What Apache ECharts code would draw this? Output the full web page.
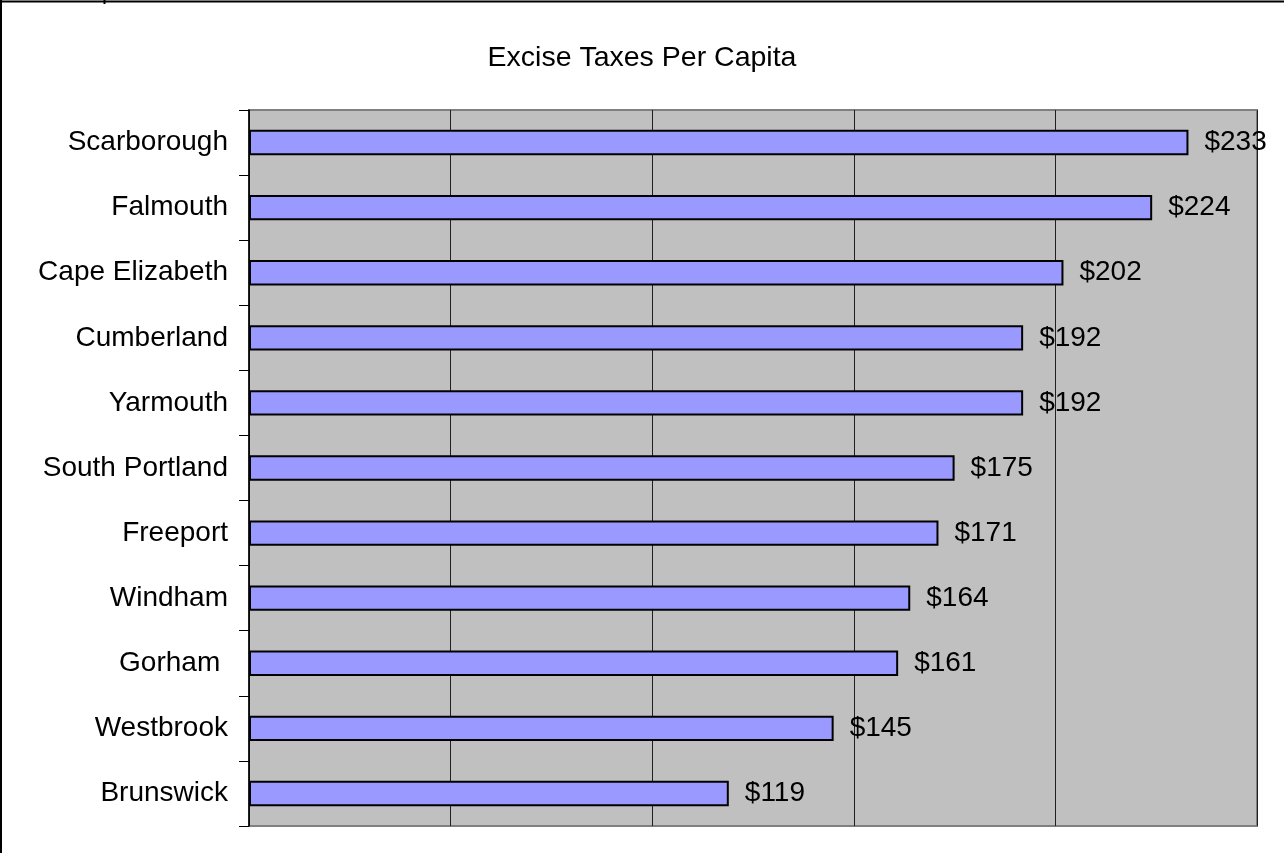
<!DOCTYPE html>
<html>
<head>
<meta charset="utf-8">
<script src="https://cdn.jsdelivr.net/npm/echarts@6/dist/echarts.min.js"></script>
<style>
html,body{margin:0;padding:0;background:#fff;}
#chart{width:1284px;height:853px;}
</style>
</head>
<body>
<div id="chart"></div>
<script>
const titleText = 'Excise Taxes Per Capita';
const categories = ['Scarborough','Falmouth','Cape Elizabeth','Cumberland','Yarmouth','South Portland','Freeport','Windham','Gorham ','Westbrook','Brunswick'];
const values = [233,224,202,192,192,175,171,164,161,145,119];
const xTicks = [0,50,100,150,200,250];

const chart = echarts.init(document.getElementById('chart'), null, {renderer:'canvas'});
const FONT = '"Liberation Sans", Arial, sans-serif';
chart.setOption({
  animation:false,
  backgroundColor:'#ffffff',
  title:{
    text:titleText, left:'center', top:39,
    textStyle:{fontFamily:FONT, fontSize:28.5, fontWeight:'normal', color:'#000'}
  },
  grid:{
    left:249, right:27, top:110, bottom:27,
    show:true, backgroundColor:'#c0c0c0', borderColor:'#808080', borderWidth:2
  },
  xAxis:{
    type:'value', min:xTicks[0], max:xTicks[xTicks.length-1], interval:xTicks[1]-xTicks[0],
    axisLabel:{show:false}, axisTick:{show:false}, axisLine:{show:false},
    splitLine:{show:true, lineStyle:{color:'#202020', width:1}}
  },
  yAxis:{
    type:'category', data:categories, inverse:true,
    axisLine:{show:true, lineStyle:{color:'#000', width:1.5}},
    axisTick:{show:true, length:10, lineStyle:{color:'#000', width:1}},
    axisLabel:{fontFamily:FONT, fontSize:28, color:'#000', margin:21},
    splitLine:{show:false}
  },
  series:[{
    type:'bar', data:values, barWidth:'39%',
    itemStyle:{color:'#9999ff', borderColor:'#000', borderWidth:2},
    label:{show:true, position:'right', distance:16, formatter:p=>'$'+p.value,
      fontFamily:FONT, fontSize:28, color:'#000'}
  }],
  graphic:[
    {type:'line', shape:{x1:0,y1:1.5,x2:1284,y2:1.5}, style:{stroke:'#000', lineWidth:2}},
    {type:'line', shape:{x1:1,y1:0,x2:1,y2:853}, style:{stroke:'#000', lineWidth:2}},
    {type:'line', shape:{x1:104.5,y1:0,x2:104.5,y2:4}, style:{stroke:'#000', lineWidth:2}}
  ]
});
</script>
</body>
</html>
